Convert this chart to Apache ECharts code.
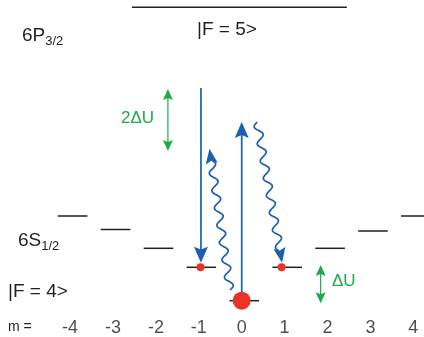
<!DOCTYPE html>
<html><head><meta charset="utf-8">
<script src="https://cdn.jsdelivr.net/npm/echarts@6/dist/echarts.min.js"></script>
<style>html,body{margin:0;padding:0;background:#fff}#c{width:424px;height:337px}</style>
</head><body><div id="c"></div>
<script>
// ---- data ----
const mValues = [-4, -3, -2, -1, 0, 1, 2, 3, 4];
const mLabels = ['-4', '-3', '-2', '-1', '0', '1', '2', '3', '4'];
// light-shifted ground-state sublevel energies (arb. units, m=0 at 0)
const groundEnergy = [84.7, 71.2, 52.4, 33.4, 0, 33.4, 52.4, 69.7, 84.7];
const excitedEnergy = 293.4;
const excitedSpan = [-2.56, 2.45];
// populated sublevels: [m, energy, size]
const populated = [[-0.96, 33.4, 8], [0, 0, 18], [0.93, 33.4, 8]];
// straight blue transitions: [m1, E1, m2, E2]
const pumpArrows = [[-0.95, 212.7, -0.95, 38], [0, 0, 0, 178.7]];
// spontaneous-emission (wavy) arrows
const wavyArrows = [[-0.27, 10.7, -0.75, 152], [0.36, 178.7, 0.94, 38]];
// green light-shift markers
const shiftArrows = [[-1.72, 149.7, -1.72, 211.7], [1.84, -2.6, 1.84, 35.7]];

const BLUE = '#1a5fb0', GREEN = '#1aab4b', RED = '#e8332b', INK = '#231f20';
const FONT = '"Liberation Sans", Arial, sans-serif';

function headPts(tip, ux, uy, L, W) {
  const px = -uy, py = ux;
  return [tip,
    [tip[0] - L * ux + W / 2 * px, tip[1] - L * uy + W / 2 * py],
    [tip[0] - 0.82 * L * ux, tip[1] - 0.82 * L * uy],
    [tip[0] - L * ux - W / 2 * px, tip[1] - L * uy - W / 2 * py]];
}

function arrowRender(opt) {
  return function (params, api) {
    const p1 = api.coord([api.value(0), api.value(1)]);
    const p2 = api.coord([api.value(2), api.value(3)]);
    const dx = p2[0] - p1[0], dy = p2[1] - p1[1];
    const len = Math.hypot(dx, dy);
    const ux = dx / len, uy = dy / len, px = -uy, py = ux;
    const L = opt.headL, W = opt.headW;
    const children = [];
    const endS = len - 0.8 * L;
    const startS = opt.double ? 0.8 * L : 0;
    let pts = [];
    if (opt.wavy) {
      for (let s = startS; s <= endS; s += 0.7) {
        const off = opt.amp * Math.sin(2 * Math.PI * s / opt.wl);
        pts.push([p1[0] + ux * s + px * off, p1[1] + uy * s + py * off]);
      }
    } else {
      pts = [[p1[0] + ux * startS, p1[1] + uy * startS], [p1[0] + ux * endS, p1[1] + uy * endS]];
    }
    children.push({ type: 'polyline', shape: { points: pts }, style: { stroke: opt.color, lineWidth: opt.lw, fill: null } });
    children.push({ type: 'polygon', shape: { points: headPts(p2, ux, uy, L, W) }, style: { fill: opt.color } });
    if (opt.double) {
      children.push({ type: 'polygon', shape: { points: headPts(p1, -ux, -uy, L, W) }, style: { fill: opt.color } });
    }
    return { type: 'group', children };
  };
}

const levelData = groundEnergy.map((e, i) => [mValues[i] + 0.06 - 0.345, e, mValues[i] + 0.06 + 0.345, e]);
levelData.push([excitedSpan[0], excitedEnergy, excitedSpan[1], excitedEnergy]);

const chart = echarts.init(document.getElementById('c'), null, { renderer: 'canvas' });
chart.setOption({
  animation: false,
  backgroundColor: '#fff',
  grid: { left: 0, right: 0, top: 0, bottom: 0 },
  xAxis: { type: 'value', min: -5.634, max: 4.249, show: false },
  yAxis: { type: 'value', min: -36.3, max: 300.7, show: false },
  series: [
    {
      type: 'custom', z: 1,
      data: levelData,
      renderItem: function (params, api) {
        const a = api.coord([api.value(0), api.value(1)]);
        const b = api.coord([api.value(2), api.value(3)]);
        return { type: 'line', shape: { x1: a[0], y1: a[1], x2: b[0], y2: b[1] }, style: { stroke: INK, lineWidth: 1.5 } };
      }
    },
    { type: 'custom', z: 2, data: pumpArrows, renderItem: arrowRender({ color: BLUE, lw: 1.7, headL: 16, headW: 14 }) },
    { type: 'custom', z: 2, data: wavyArrows, renderItem: arrowRender({ color: BLUE, lw: 1.7, headL: 15, headW: 12, wavy: true, amp: 3.8, wl: 17.5 }) },
    { type: 'custom', z: 2, data: shiftArrows, renderItem: arrowRender({ color: GREEN, lw: 1.2, headL: 11, headW: 10, double: true }) },
    {
      type: 'scatter', z: 3,
      data: populated.map(p => ({ value: [p[0], p[1]], symbolSize: p[2] })),
      itemStyle: { color: RED, opacity: 1 }
    },
    {
      type: 'scatter', z: 3, symbolSize: 0,
      data: mValues.map((m, i) => ({ value: [m, -27.3], name: mLabels[i] })),
      label: { show: true, position: 'inside', formatter: p => p.name, color: INK, fontSize: 18, fontFamily: FONT }
    }
  ],
  graphic: [
    { type: 'text', left: 22, top: 26, style: { text: '{a|6P}{b|3/2}', rich: { a: { fontSize: 19, fontFamily: FONT, fill: INK }, b: { fontSize: 13, fontFamily: FONT, fill: INK, padding: [12, 0, 0, 0] } } } },
    { type: 'text', left: 197, top: 20, style: { text: '|F = 5>', fontSize: 19, fontFamily: FONT, fill: INK } },
    { type: 'text', left: 18, top: 231, style: { text: '{a|6S}{b|1/2}', rich: { a: { fontSize: 19, fontFamily: FONT, fill: INK }, b: { fontSize: 13, fontFamily: FONT, fill: INK, padding: [12, 0, 0, 0] } } } },
    { type: 'text', left: 8, top: 282, style: { text: '|F = 4>', fontSize: 19, fontFamily: FONT, fill: INK } },
    { type: 'text', left: 8, top: 320, style: { text: 'm =', fontSize: 14, fontFamily: FONT, fill: INK } },
    { type: 'text', left: 121, top: 110, style: { text: '2ΔU', fontSize: 17, fontFamily: FONT, fill: GREEN } },
    { type: 'text', left: 332, top: 273, style: { text: 'ΔU', fontSize: 17, fontFamily: FONT, fill: GREEN } }
  ]
});
</script></body></html>
